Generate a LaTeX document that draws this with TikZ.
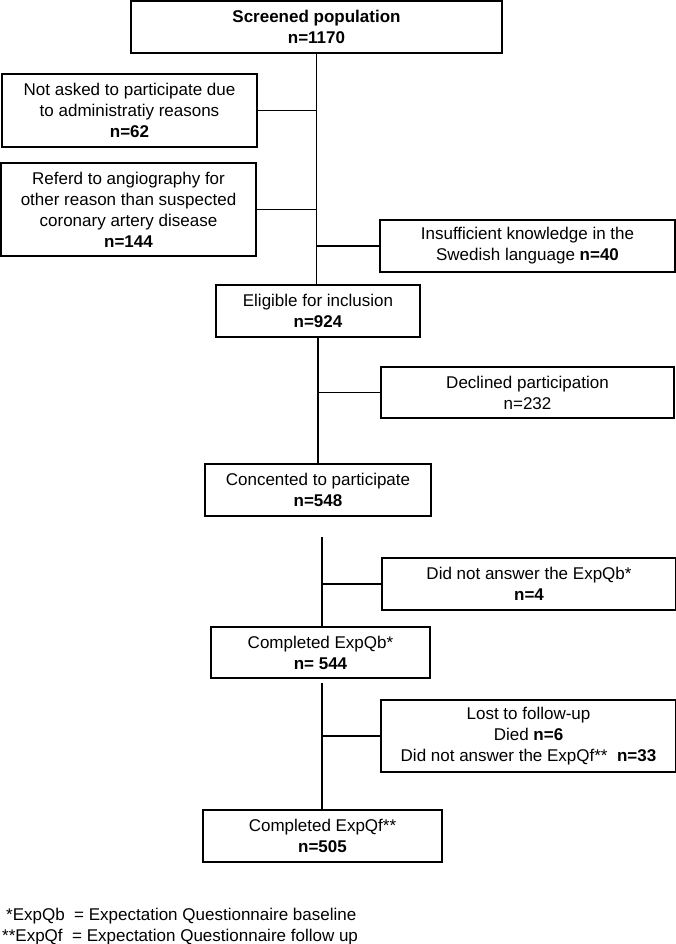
\documentclass[tikz,border=0pt]{standalone}
\usepackage{fontspec}
\setmainfont{Liberation Sans}
\begin{document}
\begin{tikzpicture}[x=1pt,y=-1pt,
  box/.style={draw,line width=1.7pt,align=center,inner sep=0pt,font=\fontsize{17}{21}\selectfont},
  link/.style={line width=1.7pt}]
\useasboundingbox (0,0) rectangle (676,944);
\node[box,minimum width=371pt,minimum height=52pt] (P0) at (316.5,27) {\textbf{Screened population}\\\textbf{n=1170}};
\node[box,minimum width=255pt,minimum height=73pt] (X1) at (129.5,110.5) {Not asked to participate due\\to administratiy reasons\\\textbf{n=62}};
\node[box,minimum width=255pt,minimum height=93pt] (X2) at (128.5,209.5) {Referd to angiography for\\other reason than suspected\\coronary artery disease\\\textbf{n=144}};
\node[box,minimum width=295pt,minimum height=52pt] (X3) at (527.5,246) {Insufficient knowledge in the\\Swedish language \textbf{n=40}};
\node[box,minimum width=204pt,minimum height=52pt] (P1) at (318,311) {Eligible for inclusion\\\textbf{n=924}};
\node[box,minimum width=293pt,minimum height=51pt] (X4) at (527.5,392.5) {Declined participation\\n=232};
\node[box,minimum width=226pt,minimum height=52pt] (P2) at (318,490) {Concented to participate\\\textbf{n=548}};
\node[box,minimum width=294pt,minimum height=52pt] (X5) at (529,584) {Did not answer the ExpQb*\\\textbf{n=4}};
\node[box,minimum width=219pt,minimum height=51pt] (P3) at (320.5,652.5) {Completed ExpQb*\\\textbf{n= 544}};
\node[box,minimum width=295pt,minimum height=72pt] (X6) at (528.5,736) {Lost to follow-up\\Died \textbf{n=6}\\Did not answer the ExpQf**\ \ \textbf{n=33}};
\node[box,minimum width=239pt,minimum height=52pt] (P4) at (322.5,836) {Completed ExpQf**\\\textbf{n=505}};
\node[font=\fontsize{17}{21}\selectfont,inner sep=0pt,anchor=base west] (F1) at (6,920) {*ExpQb\ \ = Expectation Questionnaire baseline};
\node[font=\fontsize{17}{21}\selectfont,inner sep=0pt,anchor=base west] (F2) at (2,941) {**ExpQf\ \ = Expectation Questionnaire follow up};
\coordinate (G1) at (322,537);
\coordinate (G2) at (322,683);
% main line
\draw[link] (P0.south) -- (P0.south |- P1.north);
\draw[link] (P1.south) -- (P2.north);
\draw[link] (G1) -- (G1 |- P3.north);
\draw[link] (G2) -- (G2 |- P4.north);
% exclusions
\draw[link] (X1.east) -- (X1.east -| P0.south);
\draw[link] (X2.east) -- (X2.east -| P0.south);
\draw[link] (X3.west) -- (X3.west -| P0.south);
\draw[link] (X4.west) -- (X4.west -| P1.south);
\draw[link] (X5.west) -- (X5.west -| G1);
\draw[link] (X6.west) -- (X6.west -| G2);
\end{tikzpicture}
\end{document}
